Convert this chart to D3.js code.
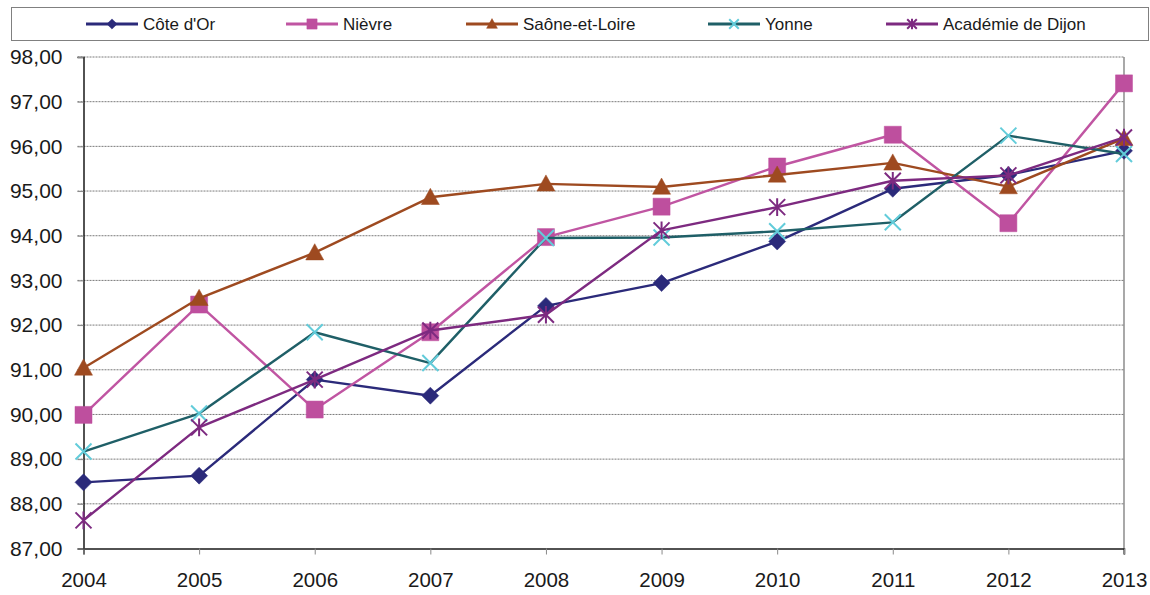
<!DOCTYPE html>
<html>
<head>
<meta charset="utf-8">
<script src="https://cdn.jsdelivr.net/npm/d3@7"></script>
<style>
  html, body { margin: 0; padding: 0; background: #fff; }
  svg { display: block; font-family: "Liberation Sans", Arial, sans-serif; }
</style>
</head>
<body>
<svg id="chart" width="1150" height="595"></svg>
<script>
// ---- data ----
const years = ["2004","2005","2006","2007","2008","2009","2010","2011","2012","2013"];
const seriesNames = ["Côte d'Or", "Nièvre", "Saône-et-Loire", "Yonne", "Académie de Dijon"];
const coteDor   = [88.48, 88.63, 90.78, 90.42, 92.43, 92.94, 93.87, 95.05, 95.36, 95.90];
const nievre    = [89.99, 92.46, 90.11, 91.84, 93.97, 94.65, 95.55, 96.26, 94.28, 97.41];
const saone     = [91.04, 92.60, 93.62, 94.86, 95.16, 95.09, 95.36, 95.63, 95.10, 96.18];
const yonne     = [89.17, 90.02, 91.84, 91.15, 93.95, 93.96, 94.10, 94.30, 96.24, 95.83];
const academie  = [87.63, 89.71, 90.78, 91.88, 92.23, 94.12, 94.64, 95.23, 95.35, 96.20];
const yTicks    = [87, 88, 89, 90, 91, 92, 93, 94, 95, 96, 97, 98];

(function () {
// ---- styles ----
const styles = [
  { line: "#2B2A7A", marker: "#2B2A7A", shape: "diamond", size: 8.5, lw: 2.4 },
  { line: "#C055A2", marker: "#BE4F9E", shape: "square",  size: 8.5, lw: 2.4 },
  { line: "#9E4A20", marker: "#9E4A20", shape: "triangle",size: 9,   lw: 2.4 },
  { line: "#1F5F67", marker: "#62CCDA", shape: "x",       size: 8,   lw: 2.4 },
  { line: "#7D2A80", marker: "#7D2A80", shape: "star",    size: 8,   lw: 2.4 }
];
const allSeries = [coteDor, nievre, saone, yonne, academie];

const svg = d3.select("#chart");
const pL = 83.5, pR = 1124, pT = 57, pB = 548.5;

const x = d3.scalePoint().domain(years).range([pL, pR]);
const y = d3.scaleLinear().domain([87, 98]).range([pB, pT]);

// gridlines
svg.append("g").selectAll("line")
  .data(yTicks.filter(t => t > 87))
  .join("line")
  .attr("x1", pL - 6).attr("x2", pR)
  .attr("y1", d => y(d)).attr("y2", d => y(d))
  .attr("stroke", "#7a7a7a").attr("stroke-width", 1)
  .attr("stroke-dasharray", "2,1");

// right border (gray)
svg.append("line")
  .attr("x1", pR).attr("x2", pR)
  .attr("y1", pT).attr("y2", pB + 6)
  .attr("stroke", "#7a7a7a").attr("stroke-width", 1.3);

// y axis
const yAxis = d3.axisLeft(y).tickValues(yTicks)
  .tickFormat(d => d3.format(".2f")(d).replace(".", ","))
  .tickSize(6).tickPadding(15);
const gy = svg.append("g").attr("transform", `translate(${pL},0)`).call(yAxis);
gy.select(".domain").attr("stroke", "#1a1a1a").attr("stroke-width", 1.5);
gy.selectAll(".tick line").attr("stroke", "#8a8a8a");
gy.selectAll("text").attr("font-size", 21).attr("fill", "#1a1a1a")
  .attr("font-family", "Liberation Sans, Arial, sans-serif");

// x axis
const xAxis = d3.axisBottom(x).tickSize(6).tickPadding(18);
const gx = svg.append("g").attr("transform", `translate(0,${pB})`).call(xAxis);
gx.select(".domain").attr("stroke", "#1a1a1a").attr("stroke-width", 1.5);
gx.selectAll(".tick line").attr("stroke", "#8a8a8a");
gx.selectAll("text").attr("font-size", 20.5).attr("fill", "#1a1a1a")
  .attr("font-family", "Liberation Sans, Arial, sans-serif");

// marker paths
function markerPath(shape, r) {
  switch (shape) {
    case "diamond": return `M0,${-r}L${r},0L0,${r}L${-r},0Z`;
    case "square": return `M${-r},${-r}H${r}V${r}H${-r}Z`;
    case "triangle": return `M0,${-r}L${r},${r*0.8}L${-r},${r*0.8}Z`;
    case "x": return `M${-r},${-r}L${r},${r}M${-r},${r}L${r},${-r}`;
    case "star": return `M${-r},${-r}L${r},${r}M${-r},${r}L${r},${-r}M0,${-r*1.1}V${r*1.1}`;
  }
}
function drawMarker(g, st, scale) {
  const r = st.size * scale;
  const p = g.append("path").attr("d", markerPath(st.shape, r));
  if (st.shape === "x" || st.shape === "star") {
    p.attr("fill", "none").attr("stroke", st.marker).attr("stroke-width", 2);
  } else {
    p.attr("fill", st.marker).attr("stroke", st.marker).attr("stroke-width", 0.5);
  }
}

const line = d3.line().x((d, i) => x(years[i])).y(d => y(d));

allSeries.forEach((vals, si) => {
  const st = styles[si];
  const g = svg.append("g");
  g.append("path").datum(vals)
    .attr("d", line)
    .attr("fill", "none")
    .attr("stroke", st.line)
    .attr("stroke-width", st.lw)
    .attr("stroke-linejoin", "round");
  vals.forEach((v, i) => {
    const mg = g.append("g").attr("transform", `translate(${x(years[i])},${y(v)})`);
    drawMarker(mg, st, 1);
  });
});

// legend
const legendX = [86, 286, 466, 708, 886];
svg.append("rect")
  .attr("x", 11.5).attr("y", 7.5).attr("width", 1137).attr("height", 33)
  .attr("fill", "#fff").attr("stroke", "#808080").attr("stroke-width", 1);
seriesNames.forEach((name, i) => {
  const st = styles[i];
  const g = svg.append("g").attr("transform", `translate(${legendX[i]},24)`);
  g.append("line").attr("x1", 0).attr("x2", 52).attr("y1", 0).attr("y2", 0)
    .attr("stroke", st.line).attr("stroke-width", 3);
  const mg = g.append("g").attr("transform", "translate(26,0)");
  drawMarker(mg, st, 0.6);
  g.append("text").attr("x", 57).attr("y", 0).attr("dy", "0.35em")
    .attr("font-size", 17).attr("fill", "#1a1a1a").text(name);
});
})();
</script>
</body>
</html>
